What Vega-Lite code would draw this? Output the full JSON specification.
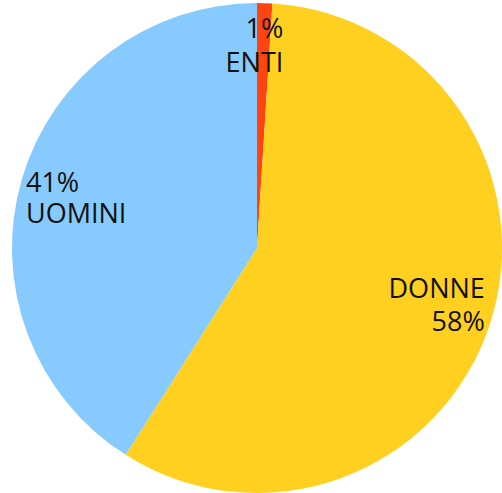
{
  "$schema": "https://vega.github.io/schema/vega-lite/v6.json",
  "width": 490,
  "height": 490,
  "autosize": "none",
  "padding": {"left": 12, "top": 3, "right": 0, "bottom": 0},
  "background": "white",
  "config": {"view": {"stroke": null}},
  "data": {
    "values": [
      {"cat": "ENTI", "value": 1, "idx": 1, "label": "1%\nENTI"},
      {"cat": "DONNE", "value": 58, "idx": 2, "label": "DONNE\n58%"},
      {"cat": "UOMINI", "value": 41, "idx": 3, "label": "41%\nUOMINI"}
    ]
  },
  "encoding": {
    "theta": {"field": "value", "type": "quantitative", "stack": true},
    "order": {"field": "idx", "type": "quantitative"}
  },
  "layer": [
    {
      "mark": {"type": "arc", "outerRadius": 245},
      "encoding": {
        "color": {
          "field": "cat",
          "type": "nominal",
          "scale": {"domain": ["ENTI", "DONNE", "UOMINI"], "range": ["#FF4411", "#FFD01F", "#87CAFE"]},
          "legend": null
        }
      }
    },
    {
      "mark": {"type": "text", "radius": 202, "dx": 20, "dy": -16, "align": "right", "baseline": "middle", "lineBreak": "\n", "lineHeight": 34, "font": "Open Sans", "fontSize": 27, "color": "#111111"},
      "encoding": {
        "text": {"condition": {"test": "datum.cat === 'ENTI'", "field": "label"}, "value": ""}
      }
    },
    {
      "mark": {"type": "text", "radius": 176, "dx": -62, "dy": -15, "align": "left", "baseline": "middle", "lineBreak": "\n", "lineHeight": 31, "font": "Open Sans", "fontSize": 27, "color": "#111111"},
      "encoding": {
        "text": {"condition": {"test": "datum.cat === 'UOMINI'", "field": "label"}, "value": ""}
      }
    },
    {
      "mark": {"type": "text", "radius": 188, "dx": 49, "dy": -16, "align": "right", "baseline": "middle", "lineBreak": "\n", "lineHeight": 33, "font": "Open Sans", "fontSize": 27, "color": "#111111"},
      "encoding": {
        "text": {"condition": {"test": "datum.cat === 'DONNE'", "field": "label"}, "value": ""}
      }
    }
  ]
}
